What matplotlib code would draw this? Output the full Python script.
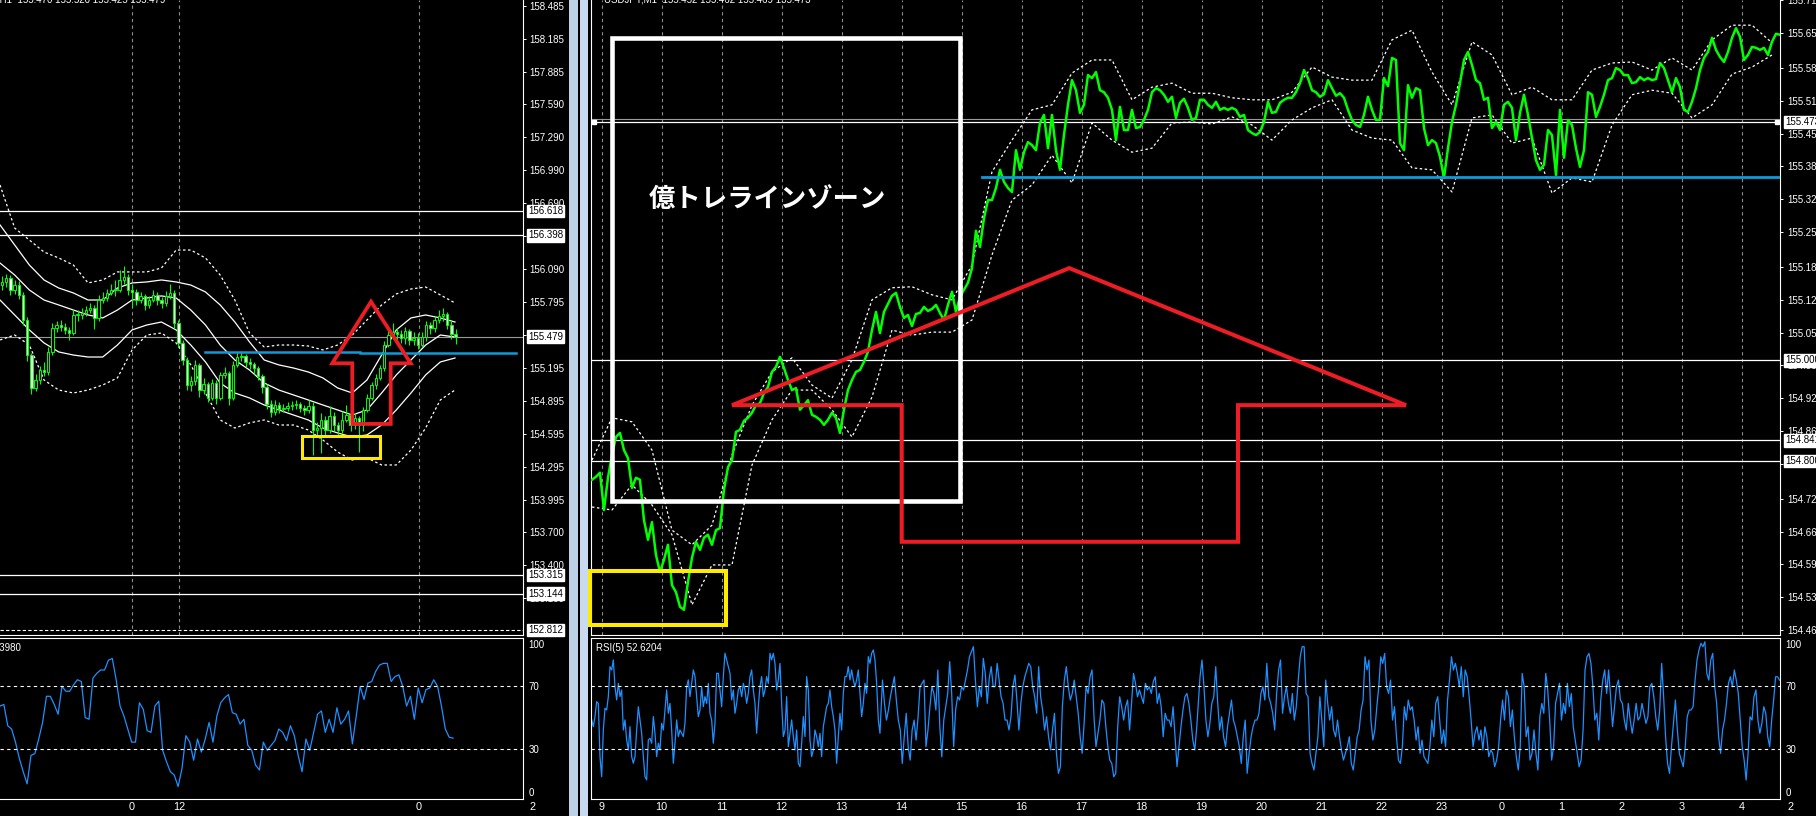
import matplotlib
matplotlib.use("Agg")
import matplotlib.pyplot as plt
import matplotlib.transforms as mtransforms
from matplotlib.patches import Rectangle, Polygon
import numpy as np

plt.rcParams['font.family'] = ['Liberation Sans', 'DejaVu Sans']

# ---------------- left window : USDJPY H1 ----------------
h1_open_first = 155.95
h1_close = [155.975, 156.011, 155.902, 155.947, 155.857, 155.629, 155.311, 155.012, 155.084, 155.175,
            155.157, 155.339, 155.557, 155.584, 155.566, 155.539, 155.511, 155.675, 155.675, 155.693,
            155.720, 155.739, 155.648, 155.811, 155.829, 155.875, 155.902, 155.902, 155.993, 156.020,
            155.902, 155.884, 155.811, 155.848, 155.766, 155.811, 155.857, 155.811, 155.784, 155.848,
            155.875, 155.602, 155.421, 155.266, 155.039, 155.075, 155.221, 154.993, 155.048, 154.921,
            155.057, 154.921, 155.130, 155.148, 154.921, 155.221, 155.293, 155.302, 155.248, 155.230,
            155.193, 155.121, 155.021, 154.866, 154.794, 154.857, 154.821, 154.830, 154.848, 154.857,
            154.866, 154.830, 154.812, 154.848, 154.630, 154.648, 154.721, 154.630, 154.757, 154.675,
            154.630, 154.721, 154.766, 154.675, 154.739, 154.675, 154.812, 154.921, 155.039, 155.103,
            155.193, 155.402, 155.493, 155.520, 155.502, 155.466, 155.530, 155.448, 155.466, 155.402,
            155.475, 155.584, 155.557, 155.629, 155.666, 155.684, 155.584, 155.502, 155.479]
h1_high = [156.03, 156.05, 156.04, 155.99, 155.98, 155.88, 155.66, 155.33, 155.14, 155.21,
           155.25, 155.38, 155.60, 155.62, 155.63, 155.60, 155.57, 155.73, 155.72, 155.74,
           155.76, 155.78, 155.77, 155.86, 155.88, 155.91, 155.96, 155.99, 156.08, 156.12,
           156.05, 155.96, 155.91, 155.88, 155.87, 155.85, 155.90, 155.88, 155.84, 155.89,
           155.96, 155.90, 155.63, 155.45, 155.29, 155.12, 155.27, 155.24, 155.10, 155.07,
           155.09, 155.08, 155.16, 155.20, 155.17, 155.26, 155.34, 155.35, 155.32, 155.28,
           155.25, 155.21, 155.14, 155.05, 154.90, 154.90, 154.88, 154.87, 154.88, 154.89,
           154.90, 154.88, 154.86, 154.90, 154.88, 154.70, 154.78, 154.76, 154.85, 154.79,
           154.70, 154.80, 154.86, 154.80, 154.78, 154.76, 154.84, 154.96, 155.07, 155.14,
           155.22, 155.44, 155.55, 155.60, 155.56, 155.54, 155.57, 155.55, 155.52, 155.51,
           155.52, 155.62, 155.61, 155.67, 155.72, 155.74, 155.70, 155.63, 155.55]
h1_low = [155.90, 155.93, 155.86, 155.87, 155.82, 155.58, 155.26, 154.96, 154.98, 155.05,
          155.12, 155.13, 155.31, 155.52, 155.53, 155.50, 155.45, 155.49, 155.62, 155.64,
          155.67, 155.69, 155.55, 155.62, 155.78, 155.80, 155.86, 155.85, 155.88, 155.96,
          155.86, 155.75, 155.77, 155.78, 155.72, 155.74, 155.79, 155.77, 155.74, 155.76,
          155.82, 155.56, 155.38, 155.22, 154.99, 154.98, 155.04, 154.93, 154.96, 154.88,
          154.90, 154.87, 154.90, 155.10, 154.86, 154.90, 155.20, 155.26, 155.20, 155.18,
          155.14, 155.08, 154.97, 154.82, 154.75, 154.77, 154.78, 154.79, 154.80, 154.81,
          154.82, 154.79, 154.77, 154.78, 154.40, 154.58, 154.42, 154.58, 154.60, 154.62,
          154.58, 154.60, 154.70, 154.62, 154.64, 154.43, 154.62, 154.79, 154.90, 155.00,
          155.08, 155.17, 155.38, 155.46, 155.44, 155.42, 155.41, 155.40, 155.40, 155.37,
          155.38, 155.44, 155.50, 155.52, 155.60, 155.62, 155.55, 155.46, 155.41]
h1_bb_up2 = [156.856, 156.465, 156.356, 156.247, 156.193, 156.129, 155.966, 155.993, 156.066, 156.066,
             156.066, 156.102, 156.265, 156.265, 156.193, 156.038, 155.811, 155.511, 155.384, 155.402,
             155.402, 155.393, 155.357, 155.402, 155.493, 155.629, 155.766, 155.866, 155.911, 155.929,
             155.857, 155.784]
h1_bb_up1 = [156.493, 156.311, 156.129, 155.993, 155.920, 155.875, 155.811, 155.811, 155.920, 155.966,
             155.975, 155.993, 155.975, 155.947, 155.884, 155.766, 155.611, 155.430, 155.266, 155.221,
             155.193, 155.157, 155.103, 155.012, 154.966, 155.084, 155.311, 155.539, 155.648, 155.675,
             155.648, 155.611]
h1_bb_mid = [156.147, 156.038, 155.902, 155.811, 155.766, 155.720, 155.675, 155.648, 155.720, 155.811,
             155.829, 155.848, 155.829, 155.720, 155.584, 155.402, 155.266, 155.175, 155.057, 154.993,
             154.948, 154.903, 154.857, 154.812, 154.766, 154.812, 154.966, 155.130, 155.266, 155.402,
             155.493, 155.475]
h1_bb_lo1 = [155.811, 155.675, 155.539, 155.421, 155.339, 155.311, 155.293, 155.293, 155.402, 155.539,
             155.584, 155.611, 155.539, 155.402, 155.248, 155.057, 154.966, 154.921, 154.857, 154.812,
             154.766, 154.721, 154.648, 154.603, 154.566, 154.585, 154.675, 154.812, 154.966, 155.130,
             155.248, 155.284]
h1_bb_lo2 = [155.448, 155.493, 155.402, 155.084, 154.993, 154.966, 154.993, 155.039, 155.103, 155.357,
             155.493, 155.511, 155.421, 155.221, 154.966, 154.721, 154.648, 154.694, 154.721, 154.675,
             154.675, 154.630, 154.539, 154.430, 154.357, 154.376, 154.312, 154.312, 154.448, 154.648,
             154.903, 154.993]
h1_rsi = [57.3, 58.3, 44.8, 42.7, 34.4, 24.0, 15.6, 7.9, 26.0, 27.1, 36.4, 46.9, 63.5, 63.5, 58.3,
          52.1, 69.8, 66.7, 66.7, 70.8, 74.0, 72.9, 50.0, 48.9, 75.0, 78.1, 80.2, 80.2, 86.4, 87.5,
          74.0, 57.3, 51.0, 42.7, 34.4, 34.4, 59.4, 55.2, 41.7, 40.6, 57.3, 60.4, 29.2, 21.9, 15.6,
          13.5, 6.2, 17.7, 38.5, 34.4, 22.9, 36.4, 28.1, 36.4, 46.9, 34.4, 51.0, 59.4, 62.5, 64.6,
          53.1, 52.1, 45.8, 48.9, 32.3, 29.2, 19.8, 16.7, 34.4, 29.2, 32.3, 35.4, 42.7, 40.6, 35.4,
          44.8, 38.5, 26.0, 15.6, 36.4, 29.2, 40.6, 52.1, 54.2, 40.6, 48.9, 40.6, 56.2, 45.8, 48.9,
          54.2, 33.3, 51.0, 69.8, 61.5, 71.9, 72.9, 79.2, 83.3, 84.4, 84.4, 72.9, 76.0, 77.1, 69.8,
          57.3, 63.5, 48.9, 68.8, 59.4, 67.7, 68.8, 74.0, 69.8, 57.3, 42.7, 37.5, 36.9]
h1_price_ticks = [158.485, 158.185, 157.885, 157.590, 157.290, 156.990, 156.690, 156.390, 156.090,
                  155.795, 155.495, 155.195, 154.895, 154.595, 154.295, 153.995, 153.700, 153.400, 153.100]
h1_levels = [156.618, 156.398, 153.315, 153.144]
h1_bid = 155.479
h1_dashed_level = 152.812
h1_time_pos = [30.9, 42.2, 99.3]
h1_time_labels = ['0', '12', '0']
h1_support = [(48.3, 85.2, 155.341), (85.2, 122.4, 155.332)]
h1_arrow = [(87.86, 155.796), (97.31, 155.236), (92.55, 155.236), (92.55, 154.685),
            (83.4, 154.685), (83.4, 155.236), (78.64, 155.236)]
h1_box = (71.4, 90.0, 154.373, 154.578)

# ---------------- right window : USDJPY M1 ----------------
m1_close = [
    154.763, 154.769, 154.777, 154.703, 154.767, 154.812, 154.848, 154.856, 154.822, 154.806,
    154.747, 154.767, 154.763, 154.683, 154.644, 154.679, 154.614, 154.580, 154.604, 154.634,
    154.554, 154.540, 154.511, 154.505, 154.560, 154.608, 154.640, 154.624, 154.648, 154.654,
    154.634, 154.663, 154.667, 154.743, 154.788, 154.802, 154.858, 154.862, 154.880, 154.886,
    154.896, 154.911, 154.915, 154.935, 154.947, 154.977, 154.987, 155.007, 154.985, 154.961,
    154.941, 154.945, 154.902, 154.911, 154.921, 154.892, 154.888, 154.882, 154.872, 154.882,
    154.896, 154.886, 154.856, 154.902, 154.941, 154.961, 154.977, 154.981, 154.997, 155.017,
    155.060, 155.096, 155.054, 155.096, 155.112, 155.128, 155.134, 155.106, 155.084, 155.090,
    155.068, 155.092, 155.094, 155.106, 155.098, 155.102, 155.110, 155.094, 155.080, 155.110,
    155.136, 155.096, 155.126, 155.140, 155.154, 155.183, 155.257, 155.225, 155.282, 155.318,
    155.318, 155.342, 155.378, 155.354, 155.342, 155.334, 155.417, 155.378, 155.413, 155.433,
    155.427, 155.417, 155.471, 155.487, 155.421, 155.487, 155.417, 155.378, 155.447, 155.507,
    155.556, 155.536, 155.491, 155.507, 155.566, 155.560, 155.572, 155.536, 155.532, 155.521,
    155.497, 155.437, 155.503, 155.457, 155.457, 155.497, 155.461, 155.463, 155.477, 155.497,
    155.532, 155.540, 155.536, 155.527, 155.513, 155.523, 155.481, 155.511, 155.519, 155.501,
    155.477, 155.481, 155.517, 155.517, 155.507, 155.501, 155.513, 155.497, 155.501, 155.497,
    155.501, 155.497, 155.483, 155.487, 155.457, 155.451, 155.447, 155.453, 155.473, 155.513,
    155.491, 155.493, 155.511, 155.517, 155.521, 155.521, 155.532, 155.550, 155.576, 155.560,
    155.536, 155.532, 155.523, 155.528, 155.556, 155.540, 155.525, 155.530, 155.521, 155.497,
    155.477, 155.467, 155.463, 155.487, 155.523, 155.497, 155.477, 155.477, 155.560, 155.544,
    155.600, 155.596, 155.431, 155.417, 155.546, 155.521, 155.540, 155.536, 155.461, 155.427,
    155.437, 155.431, 155.404, 155.362, 155.421, 155.473, 155.507, 155.550, 155.596, 155.612,
    155.586, 155.556, 155.550, 155.517, 155.521, 155.461, 155.473, 155.457, 155.507, 155.513,
    155.501, 155.437, 155.491, 155.527, 155.487, 155.441, 155.397, 155.378, 155.388, 155.457,
    155.447, 155.368, 155.497, 155.402, 155.477, 155.467, 155.421, 155.384, 155.417, 155.532,
    155.527, 155.483, 155.503, 155.527, 155.556, 155.560, 155.580, 155.576, 155.566, 155.566,
    155.550, 155.552, 155.562, 155.556, 155.560, 155.556, 155.558, 155.590, 155.580, 155.556,
    155.532, 155.560, 155.542, 155.497, 155.493, 155.513, 155.540, 155.576, 155.600, 155.612,
    155.640, 155.616, 155.602, 155.592, 155.612, 155.640, 155.659, 155.642, 155.596, 155.606,
    155.622, 155.620, 155.616, 155.620, 155.606, 155.632, 155.648, 155.646]
m1_env_up = [154.802, 154.886, 154.878, 154.822, 154.663, 154.634, 154.673, 154.812, 154.911, 154.977,
             155.005, 154.951, 154.925, 155.001, 155.120, 155.144, 155.146, 155.130, 155.120, 155.189,
             155.374, 155.437, 155.497, 155.507, 155.570, 155.596, 155.596, 155.517, 155.542, 155.550,
             155.530, 155.530, 155.521, 155.517, 155.517, 155.532, 155.582, 155.562, 155.556, 155.556,
             155.636, 155.655, 155.572, 155.507, 155.632, 155.606, 155.527, 155.542, 155.517, 155.517,
             155.576, 155.590, 155.592, 155.576, 155.600, 155.576, 155.636, 155.665, 155.665, 155.630]
m1_env_lo = [154.709, 154.703, 154.753, 154.713, 154.654, 154.515, 154.594, 154.594, 154.792, 154.882,
             154.941, 154.941, 154.902, 154.848, 154.927, 155.060, 155.050, 155.056, 155.056, 155.080,
             155.209, 155.318, 155.348, 155.407, 155.352, 155.471, 155.437, 155.413, 155.421, 155.471,
             155.473, 155.469, 155.483, 155.467, 155.437, 155.477, 155.501, 155.517, 155.457, 155.441,
             155.437, 155.382, 155.378, 155.334, 155.481, 155.487, 155.431, 155.441, 155.332, 155.362,
             155.354, 155.467, 155.527, 155.536, 155.530, 155.481, 155.507, 155.568, 155.582, 155.606]
# RSI(5), read in three stretches (hours 9-13, 14-18, 19-4)
m1_rsi_a = [48.5, 44.2, 50.6, 60.1, 59.0, 25.2, 12.5, 42.1, 55.9, 54.8,
            63.3, 82.3, 80.2, 86.6, 69.6, 61.2, 71.7, 63.3, 67.5, 42.1,
            48.5, 35.8, 29.4, 44.2, 25.2, 21.0, 25.2, 42.1, 56.9, 48.5,
            40.0, 25.2, 12.5, 10.4, 35.8, 36.8, 33.7, 50.6, 40.0, 25.2,
            33.7, 29.4, 46.4, 42.1, 54.8, 67.5, 52.7, 59.0, 42.1, 21.0,
            33.7, 48.5, 37.9, 42.1, 40.0, 37.9, 46.4, 69.6, 73.9, 63.3,
            71.7, 80.2, 76.0, 63.3, 50.6, 54.8, 69.6, 56.9, 63.3, 59.0,
            71.7, 52.7, 48.5, 33.7, 46.4, 78.1, 78.1, 67.5, 56.9, 76.0,
            90.8, 86.6, 82.3, 78.1, 61.2, 67.5, 52.7, 59.0, 67.5, 69.6,
            63.3, 71.7, 67.5, 59.0, 65.4, 76.0, 80.2, 67.5, 59.0, 40.0,
            56.9, 69.6, 76.0, 63.3, 67.5, 76.0, 71.7, 90.8, 86.6, 90.8,
            84.4, 67.5, 73.9, 84.4, 59.0, 37.9, 42.1, 63.3, 31.5, 40.0,
            48.5, 37.9, 29.4, 42.1, 21.0, 18.8, 33.7, 50.6, 37.9, 76.0,
            67.5, 35.8, 25.2, 29.4, 42.1, 37.9, 31.5, 40.0, 25.2, 44.2,
            50.6, 56.9, 59.0, 67.5, 56.9, 50.6, 42.1, 21.0, 37.9, 52.7,
            42.1, 65.4, 76.0, 76.0, 82.3, 73.9, 80.2, 73.9, 69.6, 73.9,
            80.2, 65.4, 50.6, 59.0, 71.7, 65.4, 88.7, 84.4, 90.8, 92.9,
            86.6, 71.7, 48.5, 40.0]
m1_rsi_b = [73.8, 59.0, 48.4, 54.8, 63.2, 69.6, 75.9, 61.1, 48.4, 42.1,
            20.9, 37.8, 52.7, 31.5, 23.0, 42.1, 48.4, 35.7, 50.5, 69.6,
            71.7, 73.8, 31.5, 42.1, 56.9, 69.6, 65.3, 54.8, 80.2, 44.2,
            25.1, 48.4, 56.9, 65.3, 85.5, 65.3, 31.5, 54.8, 63.2, 61.1,
            69.6, 67.5, 73.8, 80.2, 88.6, 91.8, 95.0, 73.8, 56.9, 69.6,
            63.2, 87.6, 78.0, 59.0, 74.9, 82.3, 69.6, 69.6, 84.4, 73.8,
            63.2, 59.0, 48.4, 48.4, 42.1, 50.5, 69.6, 77.0, 61.1, 42.1,
            59.0, 69.6, 75.9, 80.2, 84.4, 82.3, 69.6, 63.2, 52.7, 82.3,
            63.2, 54.8, 42.1, 50.5, 37.8, 29.4, 42.1, 52.7, 27.3, 14.6,
            18.8, 56.9, 73.8, 82.3, 69.6, 61.1, 65.3, 73.8, 63.2, 52.7,
            37.8, 27.3, 46.3, 69.6, 65.3, 75.9, 80.2, 50.5, 31.5, 40.0,
            48.4, 61.1, 59.0, 44.2, 31.5, 23.0, 20.9, 12.4, 14.6, 44.2,
            63.2, 56.9, 48.4, 56.9, 61.1, 42.1, 59.0, 78.0, 71.7, 63.2,
            67.5, 63.2, 59.0, 71.7, 67.5, 69.6, 65.3, 72.8, 75.9, 59.0,
            65.3, 56.9, 37.8, 52.7, 48.4, 48.4, 44.2, 56.9, 37.8, 18.8,
            31.5, 44.2, 54.8, 63.2, 65.3, 59.0, 48.4, 35.7, 29.4, 44.2]
m1_rsi_c = [75.9, 86.5, 69.6, 48.4, 37.8, 46.3, 59.0, 63.2, 82.3, 59.0,
            42.1, 50.5, 37.8, 31.5, 44.2, 52.7, 61.1, 48.4, 44.2, 37.8,
            31.5, 20.9, 37.8, 48.4, 14.6, 27.3, 37.8, 44.2, 48.4, 48.4,
            52.7, 65.3, 69.6, 61.1, 84.4, 63.2, 59.0, 52.7, 42.1, 65.3,
            80.2, 86.5, 52.7, 63.2, 69.6, 59.0, 52.7, 65.3, 48.4, 56.9,
            73.8, 88.6, 95.0, 95.0, 65.3, 63.2, 27.3, 20.9, 16.7, 27.3,
            37.8, 63.2, 48.4, 31.5, 73.8, 59.0, 48.4, 56.9, 42.1, 37.8,
            48.4, 37.8, 29.4, 23.0, 27.3, 31.5, 37.8, 20.9, 16.7, 27.3,
            37.8, 42.1, 54.8, 61.1, 88.6, 80.2, 86.5, 48.4, 35.7, 42.1,
            56.9, 69.6, 88.6, 84.4, 90.7, 69.6, 65.3, 73.8, 48.4, 56.9,
            37.8, 23.0, 20.9, 31.5, 56.9, 48.4, 61.1, 54.8, 56.9, 48.4,
            35.7, 44.2, 27.3, 35.7, 25.1, 23.0, 20.9, 31.5, 48.4, 37.8,
            59.0, 63.2, 48.4, 33.6, 42.1, 31.5, 61.1, 73.8, 88.6, 80.2,
            84.4, 78.0, 69.6, 82.3, 63.2, 80.2, 75.9, 63.2, 48.4, 31.5,
            40.0, 44.2, 35.7, 42.1, 29.4, 44.2, 37.8, 25.1, 29.4, 27.3,
            18.8, 23.0, 31.5, 48.4, 61.1, 48.4, 67.5, 63.2, 44.2, 54.8,
            37.8, 25.1, 16.7, 31.5, 78.0, 69.6, 37.8, 44.2, 23.0, 27.3,
            42.1, 27.3, 16.7, 50.5, 59.0, 52.7, 78.0, 67.5, 48.4, 23.0,
            31.5, 59.0, 65.3, 71.7, 48.4, 59.0, 52.7, 71.7, 56.9, 65.3,
            44.2, 35.7, 27.3, 18.8, 23.0, 42.1, 80.2, 88.6, 90.7, 84.4,
            69.6, 48.4, 52.7, 35.7, 61.1, 73.8, 80.2, 65.3, 80.2, 63.2,
            44.2, 56.9, 69.6, 73.8, 61.1, 59.0, 48.4, 42.1, 59.0, 48.4,
            40.0, 48.4, 59.0, 48.4, 50.5, 59.0, 52.7, 46.3, 50.5, 69.6,
            71.7, 63.2, 50.5, 42.1, 54.8, 84.4, 63.2, 37.8, 20.9, 14.6,
            31.5, 46.3, 61.1, 42.1, 27.3, 23.0, 18.8, 31.5, 50.5, 54.8,
            54.8, 56.9, 73.8, 86.5, 92.9, 97.1, 95.0, 98.1, 78.0, 73.8,
            86.5, 90.7, 69.6, 59.0, 37.8, 27.3, 42.1, 48.4, 59.0, 71.7,
            75.9, 69.6, 80.2, 73.8, 65.3, 48.4, 31.5, 23.0, 10.3, 27.3,
            50.5, 48.4, 63.2, 67.5, 48.4, 40.0, 46.3, 56.9, 52.7, 37.8,
            31.5, 48.4, 61.1, 75.9, 75.9, 73.8]
m1_price_ticks = [155.715, 155.650, 155.580, 155.515, 155.450, 155.385, 155.320, 155.255, 155.185, 155.120,
                  155.055, 154.990, 154.925, 154.860, 154.795, 154.725, 154.660, 154.595, 154.530, 154.465]
m1_levels = [155.473, 155.000, 154.841, 154.800]
m1_bid = 155.479
m1_hour_labels = ['9', '10', '11', '12', '13', '14', '15', '16', '17', '18', '19', '20', '21', '22',
                  '23', '0', '1', '2', '3', '4']
m1_support = (6.338, 19.64, 155.363)
m1_zone = (0.177, 5.972, 154.721, 155.640)
m1_zone_text = '億トレラインゾーン'
m1_zone_text_at = (2.77, 155.320)
m1_box = (-0.195, 2.067, 154.475, 154.582)
m1_arrow = [(2.172, 154.911), (7.793, 155.183), (13.405, 154.911), (10.605, 154.911),
            (10.605, 154.640), (5.0, 154.640), (5.0, 154.911)]

# ---------------- drawing ----------------
W, H = 1816, 816
fig = plt.figure(figsize=(W / 100, H / 100), dpi=100, facecolor='black')

GREEN = '#00ff00'
GRID = '#8c8c8c'
RSI_BLUE = '#1e90ff'
RED = '#ee1c25'
YELLOW = '#ffeb00'
CYAN = '#0e9ad8'
LABEL_SIZE = 7.0


def px_box(x0, y0, x1, y1):
    return [x0 / W, 1 - y1 / H, (x1 - x0) / W, (y1 - y0) / H]


def style(ax):
    ax.set_facecolor('black')
    for s in ax.spines.values():
        s.set_color('white')
        s.set_linewidth(0.8)


def price_box(ax, price, text):
    trans = mtransforms.blended_transform_factory(ax.transAxes, ax.transData)
    trans = mtransforms.offset_copy(trans, fig=fig, x=5, y=0, units='dots')
    ax.text(1.0, price, text, transform=trans, ha='left', va='center', fontsize=LABEL_SIZE,
            color='black', clip_on=False, zorder=10,
            bbox=dict(boxstyle='square,pad=0.12', fc='white', ec='white'))


def price_axis(ax, ticks):
    ax.yaxis.tick_right()
    ax.set_yticks(ticks)
    ax.set_yticklabels([f'{v:.3f}' for v in ticks])
    ax.tick_params(axis='y', colors='white', labelsize=LABEL_SIZE, length=2.2, width=0.7, pad=2.0)


def rsi_axis(ax):
    ax.set_ylim(-1.7, 100.5)
    ax.axhline(70, color='white', lw=0.8, ls=(0, (3, 3)))
    ax.axhline(30, color='white', lw=0.8, ls=(0, (3, 3)))
    ax.yaxis.tick_right()
    ax.set_yticks([96.7, 70, 30, 2.7])
    ax.set_yticklabels(['100', '70', '30', '0'])
    ax.tick_params(axis='y', colors='white', labelsize=LABEL_SIZE, length=0, pad=4)
    ax.tick_params(axis='x', colors='white', labelsize=7.8, length=0, pad=2.5)


# ---- left main ----
L_XLIM = (-0.476, 124.05)
axL = fig.add_axes(px_box(0, 0, 523, 635))
style(axL)
axL.spines['top'].set_visible(False)
axL.spines['left'].set_visible(False)
axL.set_xlim(*L_XLIM)
axL.set_ylim(152.767, 158.537)
axL.set_xticks([])
price_axis(axL, h1_price_ticks)

for t in h1_time_pos:
    axL.axvline(t, color=GRID, lw=0.8, ls=(0, (3, 3)), zorder=0)
for p in h1_levels:
    axL.axhline(p, color='white', lw=0.9, zorder=1)
axL.axhline(h1_bid, color='#9a9a9a', lw=0.8, zorder=1)
axL.axhline(h1_dashed_level, color='white', lw=0.8, ls=(0, (3, 2)), zorder=1)

xb = np.linspace(L_XLIM[0], 107.86, len(h1_bb_mid))
for band, dashed in [(h1_bb_up2, True), (h1_bb_up1, False), (h1_bb_mid, False),
                     (h1_bb_lo1, False), (h1_bb_lo2, True)]:
    axL.plot(xb, band, color='white', lw=0.9, ls=(0, (2, 2)) if dashed else '-', zorder=2)

idx = np.arange(len(h1_close))
c = np.array(h1_close)
o = np.array([h1_open_first] + h1_close[:-1])
bull = c >= o
body_lo = np.minimum(o, c)
body_h = np.maximum(np.abs(c - o), 0.012)
axL.vlines(idx, h1_low, h1_high, color=GREEN, lw=0.8, zorder=3)
axL.bar(idx[bull], body_h[bull], bottom=body_lo[bull], width=0.55, color='black',
        edgecolor=GREEN, linewidth=0.7, zorder=4)
axL.bar(idx[~bull], body_h[~bull], bottom=body_lo[~bull], width=0.55, color='white',
        edgecolor=GREEN, linewidth=0.7, zorder=4)

for x0, x1, p in h1_support:
    axL.plot([x0, x1], [p, p], color=CYAN, lw=1.8, zorder=6)
axL.add_patch(Polygon(h1_arrow, closed=True, fill=False, ec=RED, lw=2.7, joinstyle='miter', zorder=7))
axL.add_patch(Rectangle((h1_box[0], h1_box[2]), h1_box[1] - h1_box[0], h1_box[3] - h1_box[2],
                        fill=False, ec=YELLOW, lw=2.2, zorder=7))

for p in h1_levels + [h1_bid, h1_dashed_level]:
    price_box(axL, p, f'{p:.3f}')

# ---- left RSI ----
axLr = fig.add_axes(px_box(0, 638, 523, 799))
style(axLr)
axLr.spines['left'].set_visible(False)
axLr.set_xlim(*L_XLIM)
axLr.plot(np.linspace(L_XLIM[0], 107.4, len(h1_rsi)), h1_rsi, color=RSI_BLUE, lw=0.9)
rsi_axis(axLr)
axLr.set_xticks(h1_time_pos)
axLr.set_xticklabels(h1_time_labels)

# ---- right main ----
R_XLIM = (-0.178, 19.638)
axR = fig.add_axes(px_box(591, 0, 1780, 635))
style(axR)
axR.spines['top'].set_visible(False)
axR.set_xlim(*R_XLIM)
axR.set_ylim(154.455, 155.715)
axR.set_xticks([])
price_axis(axR, m1_price_ticks)
axR.tick_params(axis='y', pad=3)

for h in range(len(m1_hour_labels)):
    axR.axvline(h, color=GRID, lw=0.8, ls=(0, (3, 3)), zorder=0)
axR.axhline(m1_bid, color='#9a9a9a', lw=0.8, zorder=1)
for p in m1_levels:
    axR.axhline(p, color='white', lw=0.9, zorder=1)
axR.plot([R_XLIM[0] + 0.05, R_XLIM[1] - 0.05], [m1_levels[0]] * 2, 's', color='white', ms=3,
         zorder=2, clip_on=False)

xe = np.linspace(-0.162, 19.505, len(m1_env_up))
axR.plot(xe, m1_env_up, color='white', lw=0.9, ls=(0, (2, 2)), zorder=2)
axR.plot(xe, m1_env_lo, color='white', lw=0.9, ls=(0, (2, 2)), zorder=2)
axR.plot(np.linspace(-0.162, 19.638, len(m1_close)), m1_close, color=GREEN, lw=1.8, zorder=3)

axR.plot([m1_support[0], m1_support[1]], [m1_support[2]] * 2, color=CYAN, lw=2.0, zorder=6)
axR.add_patch(Rectangle((m1_zone[0], m1_zone[2]), m1_zone[1] - m1_zone[0], m1_zone[3] - m1_zone[2],
                        fill=False, ec='white', lw=3.3, zorder=7))
axR.text(m1_zone_text_at[0], m1_zone_text_at[1], m1_zone_text, color='white', fontsize=19,
         fontweight='bold', family=['Noto Sans CJK JP', 'DejaVu Sans'], ha='center', va='center',
         zorder=8)
axR.add_patch(Rectangle((m1_box[0], m1_box[2]), m1_box[1] - m1_box[0], m1_box[3] - m1_box[2],
                        fill=False, ec=YELLOW, lw=2.9, zorder=7, clip_on=False))
axR.add_patch(Polygon(m1_arrow, closed=True, fill=False, ec=RED, lw=2.9, joinstyle='miter', zorder=7))

for p in m1_levels:
    price_box(axR, p, f'{p:.3f}')

# ---- right RSI ----
axRr = fig.add_axes(px_box(591, 638, 1780, 799))
style(axRr)
axRr.set_xlim(*R_XLIM)
rsi_x = np.concatenate([np.linspace(-0.167, 4.638, len(m1_rsi_a)),
                        np.linspace(4.68, 9.918, len(m1_rsi_b)),
                        np.linspace(9.972, 19.63, len(m1_rsi_c))])
axRr.plot(rsi_x, m1_rsi_a + m1_rsi_b + m1_rsi_c, color=RSI_BLUE, lw=0.9)
rsi_axis(axRr)
axRr.set_xticks(range(len(m1_hour_labels)))
axRr.set_xticklabels(m1_hour_labels)

# ---- window captions / frame pieces ----
fig.text(165 / W, 1 - 2 / H, 'USDJPY,H1  155.470 155.520 155.425 155.479', ha='right', va='baseline',
         color='white', fontsize=LABEL_SIZE)
fig.text(604 / W, 1 - 2 / H, 'USDJPY,M1  155.452 155.462 155.469 155.473', ha='left', va='baseline',
         color='white', fontsize=LABEL_SIZE)
fig.text(21 / W, 1 - 648 / H, 'RSI(5) 36.3980', ha='right', va='center', color='white', fontsize=LABEL_SIZE)
fig.text(596 / W, 1 - 648 / H, 'RSI(5) 52.6204', ha='left', va='center', color='white', fontsize=LABEL_SIZE)
fig.text(529 / W, 1 - 807 / H, '2', ha='left', va='center', color='white', fontsize=7.8)
fig.text(1788 / W, 1 - 807 / H, '2', ha='left', va='center', color='white', fontsize=7.8)

fig.add_artist(Rectangle((569 / W, 0), 9 / W, 1, transform=fig.transFigure, fc='#bcd0e6', ec='none'))
fig.add_artist(Rectangle((580 / W, 0), 8 / W, 1, transform=fig.transFigure, fc='#c9daee', ec='none'))

fig.savefig('out.png', dpi=100, facecolor='black')
